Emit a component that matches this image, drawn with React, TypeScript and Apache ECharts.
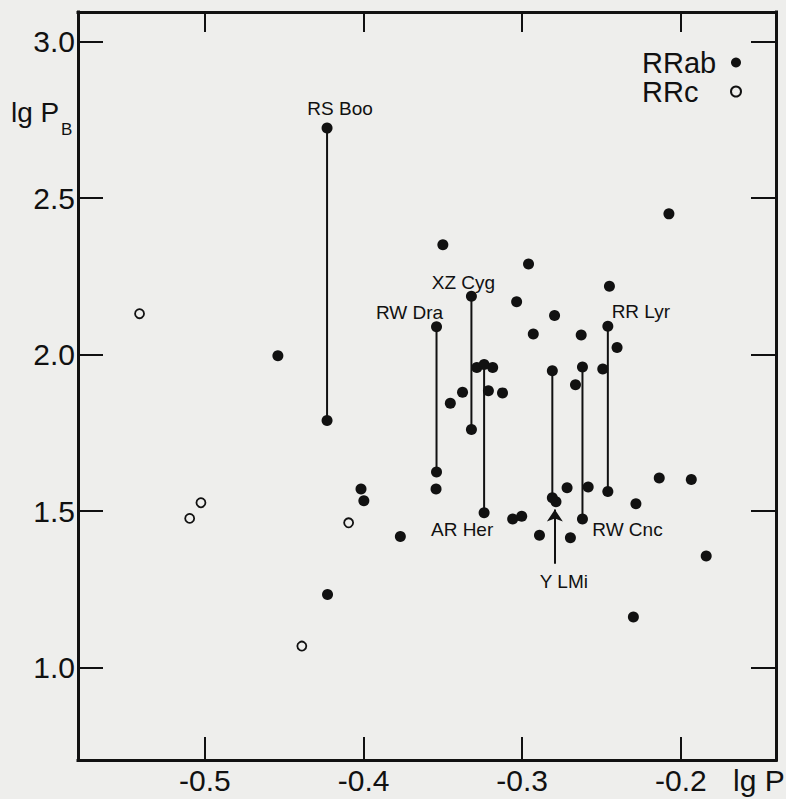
import React, { useEffect, useRef } from "react";
import * as echarts from "echarts";

// Tick values
const xTicks = [-0.5, -0.4, -0.3, -0.2];
const yTicks = [1.0, 1.5, 2.0, 2.5, 3.0];

// Stars with two values, joined by vertical lines
const starNames = ["RS Boo", "XZ Cyg", "RW Dra", "RR Lyr", "AR Her", "Y LMi", "RW Cnc"];
const starX = [-0.423, -0.332, -0.354, -0.246, -0.324, -0.281, -0.262];
const starTop = [2.724, 2.187, 2.089, 2.091, 1.969, 1.949, 1.961];
const starBottom = [1.79, 1.761, 1.625, 1.563, 1.495, 1.543, 1.475];

// Other RRab stars (filled dots)
const rrabX = [
  -0.35, -0.296, -0.245, -0.2075, -0.3035, -0.2796, -0.3543, -0.293, -0.2628, -0.2402,
  -0.3286, -0.3186, -0.2787, -0.2492, -0.2664, -0.3376, -0.3213, -0.3124, -0.3453, -0.306,
  -0.3003, -0.2891, -0.3768, -0.2717, -0.2584, -0.2696, -0.2283, -0.2136, -0.1934, -0.184,
  -0.454, -0.4016, -0.3998, -0.4227, -0.2299,
];
const rrabY = [
  2.351, 2.29, 2.219, 2.45, 2.169, 2.125, 1.571, 2.066, 2.063, 2.023,
  1.959, 1.959, 1.53, 1.954, 1.904, 1.88, 1.885, 1.878, 1.845, 1.475,
  1.484, 1.423, 1.419, 1.575, 1.577, 1.415, 1.524, 1.606, 1.601, 1.357,
  1.997, 1.571, 1.533, 1.234, 1.162,
];

// RRc stars (open circles)
const rrcX = [-0.5412, -0.5025, -0.5096, -0.4094, -0.4389];
const rrcY = [2.131, 1.527, 1.477, 1.463, 1.069];

// Arrow pointing to Y LMi
const arrowX = -0.2794;
const arrowFrom = 1.332;
const arrowTo = 1.505;

const PAPER = "#eeeeec";
const INK = "#111111";
const FONT = "Liberation Sans";

const labelPlacement: Record<string, { anchor: "top" | "bottom" | "arrow"; offset: [number, number] }> = {
  "RS Boo": { anchor: "top", offset: [13, -20] },
  "XZ Cyg": { anchor: "top", offset: [-8, -14] },
  "RW Dra": { anchor: "top", offset: [-27, -14] },
  "RR Lyr": { anchor: "top", offset: [33, -15] },
  "AR Her": { anchor: "bottom", offset: [-22, 17] },
  "RW Cnc": { anchor: "bottom", offset: [45, 10] },
  "Y LMi": { anchor: "arrow", offset: [9, 18] },
};

export default function App() {
  const ref = useRef<HTMLDivElement>(null);
  useEffect(() => {
    const chart = echarts.init(ref.current!, null, { renderer: "svg" });

    const lineSeries = starNames.map((name, i) => ({
      type: "line",
      name,
      data: [
        [starX[i], starTop[i]],
        [starX[i], starBottom[i]],
      ],
      symbol: "none",
      silent: true,
      z: 2,
      lineStyle: { color: INK, width: 2 },
    }));

    const rrabData: number[][] = rrabX.map((x, i) => [x, rrabY[i]]);
    starNames.forEach((_, i) => {
      rrabData.push([starX[i], starTop[i]]);
      rrabData.push([starX[i], starBottom[i]]);
    });
    const rrcData = rrcX.map((x, i) => [x, rrcY[i]]);

    const labelData = starNames.map((name, i) => {
      const p = labelPlacement[name];
      const y = p.anchor === "top" ? starTop[i] : p.anchor === "bottom" ? starBottom[i] : arrowFrom;
      const x = p.anchor === "arrow" ? arrowX : starX[i];
      return {
        value: [x, y],
        name,
        label: {
          show: true,
          formatter: name,
          position: "inside",
          offset: p.offset,
          color: INK,
          opacity: 1,
          fontSize: 19,
          fontFamily: FONT,
        },
      };
    });

    const axisLineStyle = { color: INK, width: 3, cap: "square" };
    const tickStyle = { color: INK, width: 2 };

    const option: any = {
      animation: false,
      backgroundColor: PAPER,
      grid: { left: 78, right: 10, top: 12, bottom: 39, containLabel: false },
      legend: {
        data: ["RRab", "RRc"],
        orient: "vertical",
        align: "right",
        left: 642,
        top: 48,
        padding: 0,
        itemGap: 0,
        itemWidth: 10,
        itemHeight: 10,
        selectedMode: false,
        formatter: (n: string) => `{n|${n}}`,
        textStyle: {
          rich: {
            n: { width: 84, align: "left", fontSize: 29, lineHeight: 28, fontFamily: FONT, color: INK },
          },
        },
      },
      xAxis: [
        {
          type: "value",
          position: "bottom",
          min: -0.58,
          max: -0.14,
          axisLine: { show: true, onZero: false, lineStyle: axisLineStyle },
          axisTick: { show: true, inside: true, length: 23, customValues: xTicks, lineStyle: tickStyle },
          axisLabel: {
            show: true,
            customValues: xTicks,
            formatter: (v: number) => v.toFixed(1),
            color: INK,
            fontSize: 30,
            fontFamily: FONT,
            margin: 5,
          },
          splitLine: { show: false },
        },
        {
          type: "value",
          position: "top",
          min: -0.58,
          max: -0.14,
          axisLine: { show: true, onZero: false, lineStyle: axisLineStyle },
          axisTick: { show: true, inside: true, length: 20, customValues: xTicks, lineStyle: tickStyle },
          axisLabel: { show: false },
          splitLine: { show: false },
        },
      ],
      yAxis: [
        {
          type: "value",
          position: "left",
          min: 0.705,
          max: 3.095,
          axisLine: { show: true, onZero: false, lineStyle: axisLineStyle },
          axisTick: { show: true, inside: true, length: 25, customValues: yTicks, lineStyle: tickStyle },
          axisLabel: {
            show: true,
            customValues: yTicks,
            formatter: (v: number) => v.toFixed(1),
            color: INK,
            fontSize: 30,
            fontFamily: FONT,
            margin: 3,
            padding: [5, 0, 0, 0],
          },
          splitLine: { show: false },
        },
        {
          type: "value",
          position: "right",
          min: 0.705,
          max: 3.095,
          axisLine: { show: true, onZero: false, lineStyle: axisLineStyle },
          axisTick: { show: true, inside: true, length: 25, customValues: yTicks, lineStyle: tickStyle },
          axisLabel: { show: false },
          splitLine: { show: false },
        },
      ],
      graphic: [
        {
          type: "text",
          left: 11,
          top: 98,
          style: { text: "lg P", font: `28px "${FONT}"`, fill: INK, lineHeight: 22 },
        },
        {
          type: "text",
          left: 61,
          top: 121,
          style: { text: "B", font: `17px "${FONT}"`, fill: INK },
        },
        {
          type: "text",
          left: 733,
          top: 765,
          style: { text: "lg P", font: `30px "${FONT}"`, fill: INK },
        },
      ],
      series: [
        ...lineSeries,
        {
          type: "scatter",
          name: "RRab",
          data: rrabData,
          symbol: "circle",
          symbolSize: 11,
          itemStyle: { color: INK, opacity: 1 },
          z: 3,
          silent: true,
        },
        {
          type: "scatter",
          name: "RRc",
          data: rrcData,
          symbol: "circle",
          symbolSize: 9,
          itemStyle: { color: PAPER, borderColor: INK, borderWidth: 1.8, opacity: 1 },
          z: 3,
          silent: true,
        },
        {
          type: "scatter",
          name: "labels",
          data: labelData,
          symbolSize: 1,
          itemStyle: { color: "rgba(0,0,0,0)", opacity: 1 },
          silent: true,
          z: 4,
          markLine: {
            silent: true,
            symbol: ["none", "arrow"],
            symbolSize: 12,
            lineStyle: { color: INK, width: 2, type: "solid", opacity: 1 },
            itemStyle: { color: INK },
            label: { show: false },
            emphasis: { disabled: true },
            data: [[{ coord: [arrowX, arrowFrom] }, { coord: [arrowX, arrowTo] }]],
          },
        },
      ],
    };

    chart.setOption(option);
    return () => chart.dispose();
  }, []);

  return <div ref={ref} style={{ position: "fixed", left: 0, top: 0, width: 786, height: 799 }} />;
}
